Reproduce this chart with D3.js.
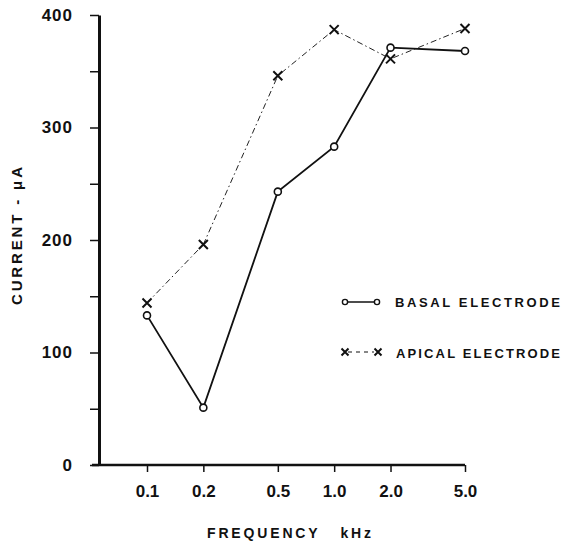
<!DOCTYPE html>
<html>
<head>
<meta charset="utf-8">
<script src="https://cdn.jsdelivr.net/npm/d3@7"></script>
<style>
  body { margin: 0; background: #fff; }
  text { font-family: "Liberation Sans", Arial, sans-serif; font-weight: bold; fill: #111; }
</style>
</head>
<body>
<svg id="chart" width="565" height="543"></svg>
<script>
var freqs = [0.1, 0.2, 0.5, 1.0, 2.0, 5.0];
var freq_labels = ["0.1", "0.2", "0.5", "1.0", "2.0", "5.0"];
var basal = [133, 51, 243, 283, 371, 368];
var apical = [144, 196, 346, 387, 361, 388];
var y_ticks = [0, 50, 100, 150, 200, 250, 300, 350, 400];

var svg = d3.select("#chart");

var x = d3.scaleLog().domain([0.1, 5]).range([147, 465]);
var y = d3.scaleLinear().domain([0, 400]).range([465, 15]);

// y axis
var yAxis = svg
  .append("g")
  .attr("transform", "translate(99,0)")
  .call(
    d3.axisLeft(y)
      .tickValues(y_ticks)
      .tickSize(9)
      .tickSizeOuter(0)
      .tickPadding(17)
      .tickFormat(function (d) {
        return d % 100 == 0 ? d : "";
      })
  );
yAxis.select(".domain").attr("stroke", "#111").attr("stroke-width", 3);
yAxis.selectAll(".tick line").attr("stroke", "#111").attr("stroke-width", 1.5);
yAxis.selectAll(".tick text")
  .style("font-size", "17px")
  .style("letter-spacing", "1px")
  .attr("fill", "#111");

// x axis
var xAxis = svg
  .append("g")
  .attr("transform", "translate(0,465)")
  .call(
    d3.axisBottom(x)
      .tickValues(freqs)
      .tickSize(7)
      .tickSizeOuter(0)
      .tickPadding(13)
      .tickFormat(function (d, i) {
        return freq_labels[i];
      })
  );
xAxis.select(".domain").remove();
xAxis.selectAll(".tick line").attr("stroke", "#111").attr("stroke-width", 1.5);
xAxis.selectAll(".tick text")
  .style("font-size", "17px")
  .attr("fill", "#111");

svg
  .append("line")
  .attr("x1", 92)
  .attr("x2", x(5))
  .attr("y1", y(0))
  .attr("y2", y(0))
  .attr("stroke", "#111")
  .attr("stroke-width", 2.5);

// titles
svg
  .append("text")
  .attr("transform", "translate(22,236) rotate(-90)")
  .attr("text-anchor", "middle")
  .attr("textLength", 138)
  .style("font-size", "15px")
  .text("CURRENT - \u03BCA");

svg
  .append("text")
  .attr("x", 207)
  .attr("y", 538)
  .attr("textLength", 164)
  .style("font-size", "14px")
  .attr("xml:space", "preserve")
  .text("FREQUENCY   kHz");

// lines
var line = function (vals) {
  return d3
    .line()
    .x(function (d, i) { return x(freqs[i]); })
    .y(function (d) { return y(d); })(vals);
};

svg
  .append("path")
  .attr("d", line(apical))
  .attr("fill", "none")
  .attr("stroke", "#222")
  .attr("stroke-width", 1)
  .attr("stroke-dasharray", "6,3,1.5,3");

svg
  .append("path")
  .attr("d", line(basal))
  .attr("fill", "none")
  .attr("stroke", "#111")
  .attr("stroke-width", 1.8);

function cross(g, cx, cy, s) {
  g.append("path")
    .attr("d", "M" + (cx - s) + "," + (cy - s) + "L" + (cx + s) + "," + (cy + s) +
      "M" + (cx - s) + "," + (cy + s) + "L" + (cx + s) + "," + (cy - s))
    .attr("stroke", "#111")
    .attr("stroke-width", 2)
    .attr("fill", "none");
}

var marks = svg.append("g");
apical.forEach(function (d, i) {
  cross(marks, x(freqs[i]), y(d), 4.5);
});

svg
  .append("g")
  .selectAll("circle")
  .data(basal)
  .enter()
  .append("circle")
  .attr("cx", function (d, i) { return x(freqs[i]); })
  .attr("cy", function (d) { return y(d); })
  .attr("r", 3.5)
  .attr("fill", "#fff")
  .attr("stroke", "#111")
  .attr("stroke-width", 1.6);

// legend
var lg = svg.append("g");
lg.append("line")
  .attr("x1", 345).attr("x2", 377).attr("y1", 302).attr("y2", 302)
  .attr("stroke", "#111").attr("stroke-width", 1.5);
[345, 377].forEach(function (cx) {
  lg.append("circle")
    .attr("cx", cx).attr("cy", 302).attr("r", 2.6)
    .attr("fill", "#fff").attr("stroke", "#111").attr("stroke-width", 1.4);
});
lg.append("text")
  .attr("x", 395).attr("y", 307)
  .attr("textLength", 165)
  .style("font-size", "13px")
  .text("BASAL ELECTRODE");

lg.append("line")
  .attr("x1", 348).attr("x2", 374).attr("y1", 352).attr("y2", 352)
  .attr("stroke", "#111").attr("stroke-width", 1.2)
  .attr("stroke-dasharray", "4,4");
cross(lg, 345, 352, 3.5);
cross(lg, 378, 352, 3.5);
lg.append("text")
  .attr("x", 396).attr("y", 358)
  .attr("textLength", 164)
  .style("font-size", "13px")
  .text("APICAL ELECTRODE");
</script>
</body>
</html>
